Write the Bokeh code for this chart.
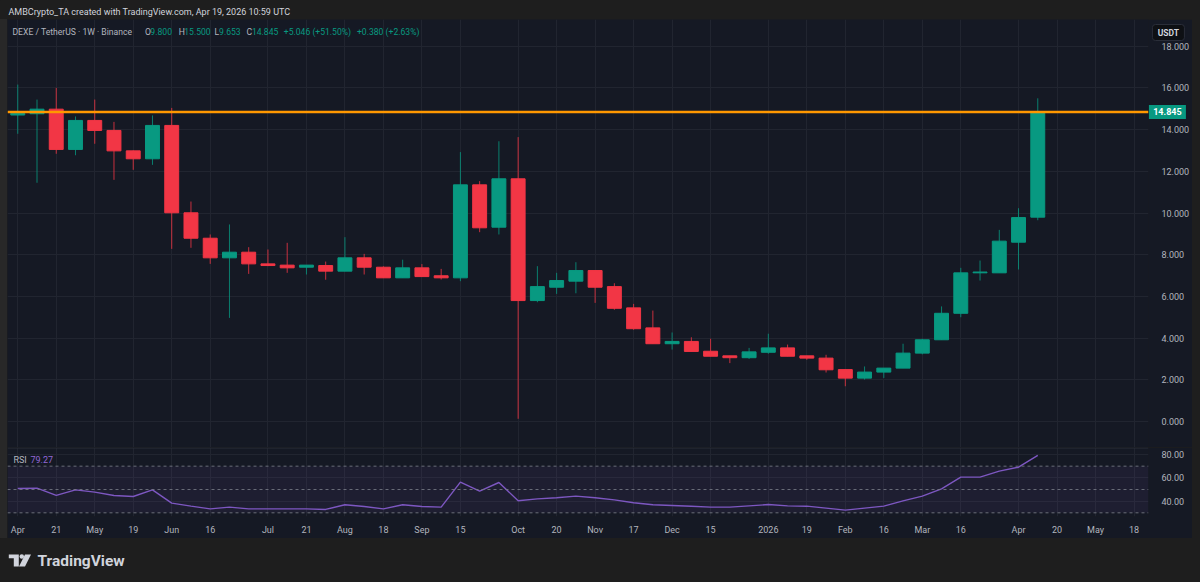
from bokeh.plotting import figure
from bokeh.layouts import column, row
from bokeh.models import (ColumnDataSource, Range1d, FixedTicker, NumeralTickFormatter,
                          Grid, Span, Label, BoxAnnotation, Spacer)
from bokeh.core.properties import value
from bokeh.embed import file_html
from bokeh.resources import INLINE

# ---------------- data (weekly DEXE/USDT, Binance) ----------------
opens = [14.70, 14.76, 14.98, 13.05, 14.44, 13.96, 12.98, 12.60, 14.20, 10.01,
         8.79, 7.85, 8.12, 7.56, 7.50, 7.40, 7.48, 7.21, 7.85, 7.40,
         6.89, 7.37, 6.99, 6.89, 11.35, 9.32, 11.64, 5.80, 6.44, 6.73,
         7.24, 6.47, 5.45, 4.49, 3.73, 3.84, 3.37, 3.15, 3.06, 3.32,
         3.53, 3.15, 3.04, 2.49, 2.08, 2.37, 2.56, 3.28, 3.92, 5.19,
         7.13, 7.13, 8.60, 9.800]
highs = [16.16, 15.44, 16.00, 14.63, 15.44, 14.37, 13.00, 14.68, 15.04, 10.55,
         8.97, 9.45, 8.36, 8.25, 8.57, 7.50, 7.67, 8.84, 8.04, 7.44,
         7.76, 7.55, 7.32, 12.92, 11.53, 13.44, 13.64, 7.45, 7.13, 7.64,
         7.24, 6.63, 5.64, 5.32, 4.27, 4.04, 3.97, 3.15, 3.53, 4.21,
         3.69, 3.15, 3.20, 2.49, 2.64, 2.56, 3.73, 3.97, 5.52, 7.37,
         7.72, 9.19, 10.23, 15.500]
lows = [13.80, 11.45, 12.84, 12.77, 13.32, 11.59, 12.07, 12.31, 8.28, 8.33,
        7.56, 4.97, 7.08, 7.45, 7.13, 7.05, 6.80, 7.21, 7.05, 6.89,
        6.89, 6.95, 6.81, 6.73, 9.08, 8.97, 0.13, 5.72, 6.12, 6.15,
        5.69, 5.36, 4.40, 3.73, 3.45, 3.36, 3.13, 2.80, 3.00, 3.25,
        3.13, 2.96, 2.35, 1.69, 2.01, 2.09, 2.56, 3.22, 3.92, 5.00,
        6.76, 7.13, 7.29, 9.653]
closes = [14.78, 14.98, 13.05, 14.44, 13.96, 12.98, 12.60, 14.20, 10.01, 8.79,
          7.85, 8.12, 7.56, 7.48, 7.37, 7.50, 7.21, 7.85, 7.40, 6.89,
          7.37, 6.95, 6.89, 11.35, 9.29, 11.64, 5.80, 6.47, 6.76, 7.24,
          6.44, 5.43, 4.45, 3.73, 3.84, 3.36, 3.13, 3.06, 3.34, 3.53,
          3.13, 3.04, 2.48, 2.08, 2.37, 2.56, 3.28, 3.92, 5.19, 7.13,
          7.17, 8.65, 9.78, 14.845]
rsi = [50.9, 51.1, 44.9, 49.7, 47.7, 44.9, 44.0, 49.7, 38.3, 35.7,
       33.4, 34.9, 33.4, 33.4, 33.4, 33.4, 32.9, 36.9, 35.4, 33.4,
       36.9, 35.4, 34.9, 56.3, 48.6, 56.0, 40.3, 42.0, 42.9, 44.3,
       42.9, 41.1, 38.6, 36.9, 36.3, 35.7, 34.9, 34.9, 36.0, 37.1,
       36.0, 35.7, 34.0, 32.3, 34.0, 35.7, 40.3, 44.3, 50.6, 60.6,
       60.6, 65.7, 69.1, 79.27]

# time axis: week index of each label (week 0 = 7 Apr 2025)
tick_idx = [0, 2, 4, 6, 8, 10, 13, 15, 17, 19, 21, 23, 26, 28, 30, 32, 34, 36,
            39, 41, 43, 45, 47, 49, 52, 54, 56, 58]
tick_labels = ["Apr", "21", "May", "19", "Jun", "16", "Jul", "21", "Aug", "18",
               "Sep", "15", "Oct", "20", "Nov", "17", "Dec", "15", "2026", "19",
               "Feb", "16", "Mar", "16", "Apr", "20", "May", "18"]
price_ticks = [0, 2, 4, 6, 8, 10, 12, 14, 16, 18]
rsi_ticks = [40, 60, 80]
rsi_levels = [30, 50, 70]
current_price = 14.845

header_texts = ["DEXE / TetherUS \u00b7 1W \u00b7 Binance", "O", "9.800", "H", "15.500",
                "L", "9.653", "C", "14.845", "+5.046 (+51.50%)", "+0.380 (+2.63%)"]
header_kind = ["t", "t", "v", "t", "v", "t", "v", "t", "v", "v", "v"]

# ---------------- style ----------------
BG_OUT = "#1e1e1e"
BG = "#151924"
GRID = "#212530"
UP = "#089981"
DOWN = "#F23645"
TXT = "#B2B5BE"
RSI_C = "#7E57C2"
FONT = "Roboto"
W_PAGE = 1200
LEFT_STRIP, RIGHT_STRIP = 7, 8
W_PANE = W_PAGE - LEFT_STRIP - RIGHT_STRIP

# geometry helpers (page pixel -> data units)
X0, STEP = 17.3, 19.33          # page x of week 0, px per week
FX0, FX1 = 7, 1153              # plot frame left/right on page
Y0, PPU = 421.0, 20.85          # page y of price 0, px per USDT
R80, RPU = 454.0, 23.33 / 20.0  # page y of RSI 80, px per RSI unit


def sx2i(sx):
    return (sx - X0) / STEP


def sy2p(sy):
    return (Y0 - sy) / PPU


def sy2r(sy):
    return 80 - (sy - R80) / RPU


xr = Range1d(sx2i(FX0), sx2i(FX1))

# ---------------- header strip ----------------
h = figure(width=W_PAGE, height=19, x_range=Range1d(0, W_PAGE), y_range=Range1d(0, 19),
           output_backend="svg", toolbar_location=None, x_axis_location=None,
           y_axis_location=None, min_border=0, background_fill_color=BG_OUT,
           border_fill_color=BG_OUT, outline_line_color=None)
h.grid.visible = False
h.add_layout(Label(x=8, y=7.5, text="AMBCrypto_TA created with TradingView.com, Apr 19, 2026 10:59 UTC",
                   text_font=FONT, text_font_size="9px", text_color="#D1D4DC",
                   text_baseline="middle"))

# ---------------- price pane ----------------
p = figure(width=W_PANE, height=428, x_range=xr, y_range=Range1d(sy2p(447), sy2p(19)),
           output_backend="svg", toolbar_location=None, x_axis_location=None,
           y_axis_location="right", min_border_left=0, min_border_top=0,
           min_border_bottom=0, min_border_right=W_PANE - (FX1 - FX0),
           background_fill_color=BG, border_fill_color=BG, outline_line_color=None)
p.grid.visible = False
p.add_layout(Grid(dimension=0, ticker=FixedTicker(ticks=tick_idx), grid_line_color=GRID))
p.add_layout(Grid(dimension=1, ticker=FixedTicker(ticks=price_ticks), grid_line_color=GRID))
p.yaxis.ticker = FixedTicker(ticks=price_ticks)
p.yaxis.formatter = NumeralTickFormatter(format="0.000")
p.yaxis.major_label_text_font = FONT
p.yaxis.major_label_text_font_size = "9px"
p.yaxis.major_label_text_color = TXT
p.yaxis.axis_line_color = None
p.yaxis.major_tick_line_color = None
p.yaxis.minor_tick_line_color = None
p.yaxis.major_label_standoff = 7

idx = list(range(len(opens)))
colors = [UP if c >= o else DOWN for o, c in zip(opens, closes)]
src = ColumnDataSource(dict(x=idx, open=opens, high=highs, low=lows, close=closes,
                            top=[max(o, c) for o, c in zip(opens, closes)],
                            bottom=[min(o, c) for o, c in zip(opens, closes)],
                            color=colors))
p.segment(x0="x", y0="low", x1="x", y1="high", line_color="color", line_width=1,
          line_alpha=0.8, source=src)
p.vbar(x="x", width=0.724, top="top", bottom="bottom", fill_color="color",
       line_color="color", line_width=1, source=src)

p.add_layout(Span(location=current_price, dimension="width", line_color="#FF9800",
                  line_width=2.5))

hdr_x = [12, 145, 150.5, 179, 184.5, 215, 219.5, 247, 252.5, 284.5, 358]
hdr_src = ColumnDataSource(dict(x=[sx2i(v) for v in hdr_x],
                                y=[sy2p(31)] * len(header_texts),
                                text=header_texts,
                                color=[TXT if k == "t" else UP for k in header_kind]))
p.text(x="x", y="y", text="text", text_color="color", text_font=value(FONT),
       text_font_size="8.6px", text_baseline="middle", source=hdr_src)

# price-scale badges: overlay-level glyphs drawn over the right price scale
badge_x = sx2i(1172)
p.rect(x=[badge_x], y=[current_price], width=37, height=14, width_units="screen",
       height_units="screen", fill_color=UP, line_color=None, level="overlay")
p.text(x=[badge_x], y=[current_price], text=[f"{current_price:.3f}"],
       text_font=value(FONT), text_font_size="9px", text_font_style="bold",
       text_color="#FFFFFF", text_align="center", text_baseline="middle", level="overlay")
usdt_y = sy2p(32)
p.rect(x=[sx2i(1173)], y=[usdt_y], width=32, height=16, width_units="screen",
       height_units="screen", fill_color="#0E1014", line_color="#2A2E39",
       border_radius=3, level="overlay")
p.text(x=[sx2i(1173)], y=[usdt_y], text=["USDT"], text_font=value(FONT),
       text_font_size="8.5px", text_font_style="bold", text_color="#D1D4DC",
       text_align="center", text_baseline="middle", level="overlay")

# ---------------- RSI pane + time axis ----------------
r = figure(width=W_PANE, height=91, x_range=xr, y_range=Range1d(sy2r(516), sy2r(447)),
           output_backend="svg", toolbar_location=None, x_axis_location="below",
           y_axis_location="right", min_border_left=0, min_border_top=0,
           min_border_bottom=22, min_border_right=W_PANE - (FX1 - FX0),
           background_fill_color=BG, border_fill_color=BG, outline_line_color=None)
r.grid.visible = False
r.add_layout(Grid(dimension=0, ticker=FixedTicker(ticks=tick_idx), grid_line_color=GRID))
r.add_layout(Grid(dimension=1, ticker=FixedTicker(ticks=rsi_ticks), grid_line_color=GRID))
r.add_layout(BoxAnnotation(bottom=min(rsi_levels), top=max(rsi_levels),
                           fill_color=RSI_C, fill_alpha=0.09, line_color=None))
for lv in rsi_levels:
    r.add_layout(Span(location=lv, dimension="width", line_color="#787B86",
                      line_dash="3 3", line_width=1, line_alpha=0.85))
r.line(x=idx, y=rsi, line_color=RSI_C, line_width=1.4)
r.add_layout(Span(location=sy2r(447.5), dimension="width", line_color="#2A2E39",
                  line_width=1))

r.xaxis.ticker = FixedTicker(ticks=tick_idx)
r.xaxis.major_label_overrides = {i: lab for i, lab in zip(tick_idx, tick_labels)}
r.yaxis.ticker = FixedTicker(ticks=rsi_ticks)
r.yaxis.formatter = NumeralTickFormatter(format="0.00")
for ax in (r.xaxis, r.yaxis):
    ax.major_label_text_font = FONT
    ax.major_label_text_font_size = "9px"
    ax.major_label_text_color = TXT
    ax.axis_line_color = None
    ax.major_tick_line_color = None
    ax.minor_tick_line_color = None
r.xaxis.major_label_standoff = 2
r.yaxis.major_label_standoff = 7

r.add_layout(Label(x=sx2i(13), y=sy2r(459), text="RSI", text_font=FONT,
                   text_font_size="9px", text_color=TXT, text_baseline="middle"))
r.add_layout(Label(x=sx2i(30), y=sy2r(459), text=f"{rsi[-1]:.2f}", text_font=FONT,
                   text_font_size="9px", text_color="#9268D6", text_baseline="middle"))

# ---------------- bottom brand strip ----------------
BH = 43
b = figure(width=W_PAGE, height=BH, x_range=Range1d(0, W_PAGE), y_range=Range1d(0, BH),
           output_backend="svg", toolbar_location=None, x_axis_location=None,
           y_axis_location=None, min_border=0, background_fill_color=BG_OUT,
           border_fill_color=BG_OUT, outline_line_color=None)
b.grid.visible = False
LOGO_T = dict(xs=[[8.3, 18.3, 18.3, 13.3, 13.3, 8.3]], ys=[[27, 27, 15, 15, 23.3, 23.3]])
LOGO_V = dict(xs=[[24.5, 30.5, 24.5, 18.5]], ys=[[27, 27, 15, 15]])
b.patches(xs=LOGO_T["xs"], ys=LOGO_T["ys"], fill_color="#D1D4DC", line_color=None)
b.patches(xs=LOGO_V["xs"], ys=LOGO_V["ys"], fill_color="#D1D4DC", line_color=None)
b.scatter(x=[21.3], y=[25], size=4.5, fill_color="#D1D4DC", line_color=None)
b.add_layout(Label(x=37, y=21, text="TradingView", text_font=FONT,
                   text_font_size="15.5px", text_font_style="bold", text_color="#D1D4DC",
                   text_baseline="middle"))

mid = row(Spacer(width=LEFT_STRIP, height=519, styles={"background-color": "#282828"}),
          column(p, r, spacing=0),
          Spacer(width=RIGHT_STRIP, height=519),
          spacing=0)
layout = column(h, mid, b, spacing=0)
html = file_html(layout, INLINE, title="DEXE / TetherUS 1W")
html = html.replace("<head>", "<head><style>html,body{background:#1e1e1e;}</style>", 1)
open("out.html", "w").write(html)
